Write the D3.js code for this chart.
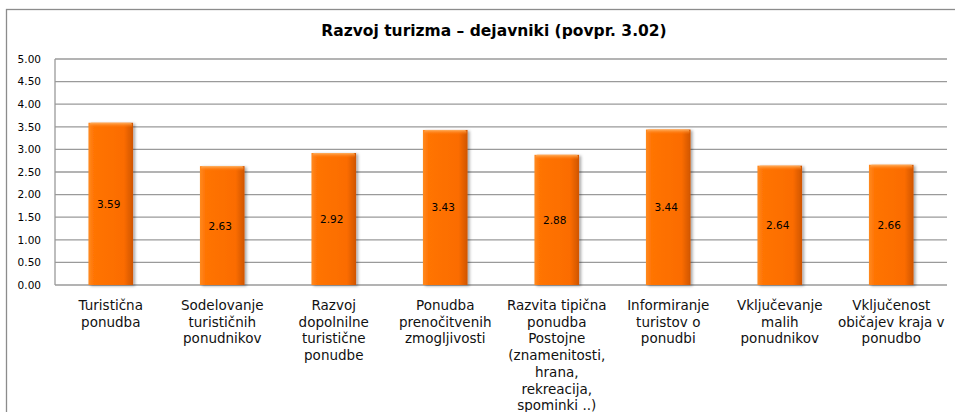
<!DOCTYPE html>
<html>
<head>
<meta charset="utf-8">
<script src="https://cdn.jsdelivr.net/npm/d3@7"></script>
<style>
  body { margin: 0; background: #fff; }
  svg { display: block; font-family: "DejaVu Sans", Verdana, sans-serif; }
</style>
</head>
<body>
<svg id="chart"></svg>
<script>
'use strict';

const title = 'Razvoj turizma – dejavniki (povpr. 3.02)';
const categories = [
  'Turistična\nponudba',
  'Sodelovanje\nturističnih\nponudnikov',
  'Razvoj\ndopolnilne\nturistične\nponudbe',
  'Ponudba\nprenočitvenih\nzmogljivosti',
  'Razvita tipična\nponudba\nPostojne\n(znamenitosti,\nhrana,\nrekreacija,\nspominki ..)',
  'Informiranje\nturistov o\nponudbi',
  'Vključevanje\nmalih\nponudnikov',
  'Vključenost\nobičajev kraja v\nponudbo'
];
const values = [3.59, 2.63, 2.92, 3.43, 2.88, 3.44, 2.64, 2.66];
const yTicks = [0, 0.5, 1, 1.5, 2, 2.5, 3, 3.5, 4, 4.5, 5];

const W = 955, H = 412;
const margin = { top: 59, left: 55, right: 8, bottom: 127 };
const width = W - margin.left - margin.right,
      height = H - margin.top - margin.bottom;

const svg = d3.select('#chart')
    .attr('width', W)
    .attr('height', H);

const defs = svg.append('defs');

const grad = defs.append('linearGradient')
    .attr('id', 'barFill')
    .attr('x1', '0').attr('x2', '1').attr('y1', '0').attr('y2', '0');
grad.append('stop').attr('offset', '0%').attr('stop-color', '#ff8a1f');
grad.append('stop').attr('offset', '12%').attr('stop-color', '#ff7405');
grad.append('stop').attr('offset', '80%').attr('stop-color', '#fb6c00');
grad.append('stop').attr('offset', '100%').attr('stop-color', '#cf5500');

const cap = defs.append('linearGradient')
    .attr('id', 'capFill')
    .attr('x1', '0').attr('x2', '0').attr('y1', '0').attr('y2', '1');
cap.append('stop').attr('offset', '0%').attr('stop-color', '#ffb060');
cap.append('stop').attr('offset', '100%').attr('stop-color', '#ff7405').attr('stop-opacity', 0);

const shadow = defs.append('filter')
    .attr('id', 'shadow')
    .attr('x', '-20%').attr('y', '-10%').attr('width', '150%').attr('height', '130%');
shadow.append('feDropShadow')
    .attr('dx', 2).attr('dy', 1)
    .attr('stdDeviation', 1.5)
    .attr('flood-color', '#000')
    .attr('flood-opacity', 0.35);

// outer chart frame (runs off the right and bottom edge)
svg.append('rect')
    .attr('x', 6.5).attr('y', 9.5)
    .attr('width', 1000).attr('height', 500)
    .attr('fill', 'none')
    .attr('stroke', '#8c8c8c')
    .attr('stroke-width', 1.3);

svg.append('text')
    .attr('x', 494)
    .attr('y', 36)
    .attr('text-anchor', 'middle')
    .attr('font-size', 15.5)
    .attr('font-weight', 'bold')
    .attr('fill', '#000')
    .text(title);

const graph = svg.append('g')
    .attr('transform', `translate(${margin.left}, ${margin.top})`);

const x = d3.scaleBand()
    .domain(categories)
    .range([0, width])
    .paddingInner(0.6)
    .paddingOuter(0.3);

const y = d3.scaleLinear()
    .domain([0, 5])
    .range([height, 0]);

// gridlines
graph.append('g')
    .selectAll('line')
    .data(yTicks)
  .enter().append('line')
    .attr('x1', 0)
    .attr('x2', width)
    .attr('y1', d => y(d))
    .attr('y2', d => y(d))
    .attr('stroke', '#9a9a9a')
    .attr('stroke-width', 1.3);

graph.append('line')
    .attr('x1', 0).attr('x2', 0)
    .attr('y1', 0).attr('y2', height)
    .attr('stroke', '#9a9a9a')
    .attr('stroke-width', 1.3);

const yAxis = d3.axisLeft(y)
    .tickValues(yTicks)
    .tickFormat(d3.format('.2f'))
    .tickSize(0)
    .tickPadding(14);

graph.append('g')
    .attr('class', 'y-axis')
    .call(yAxis)
    .call(g => g.select('.domain').remove())
    .selectAll('text')
    .attr('font-family', '"DejaVu Sans", Verdana, sans-serif')
    .attr('font-size', 10.5)
    .attr('fill', '#000');

// bars
const bars = graph.append('g')
    .selectAll('g')
    .data(values)
  .enter().append('g');

bars.append('rect')
    .attr('x', (d, i) => x(categories[i]))
    .attr('y', d => y(d))
    .attr('width', x.bandwidth())
    .attr('height', d => height - y(d))
    .attr('fill', 'url(#barFill)')
    .attr('filter', 'url(#shadow)');

bars.append('rect')
    .attr('x', (d, i) => x(categories[i]) + 1)
    .attr('y', d => y(d))
    .attr('width', x.bandwidth() - 2)
    .attr('height', 5)
    .attr('rx', 2)
    .attr('fill', 'url(#capFill)');

bars.append('text')
    .attr('x', (d, i) => x(categories[i]) + x.bandwidth() / 2 - 2)
    .attr('y', d => (y(d) + height) / 2 + 4)
    .attr('text-anchor', 'middle')
    .attr('font-size', 10.5)
    .attr('fill', '#000')
    .text(d => d.toFixed(2));

// category labels
const xAxis = graph.append('g')
    .attr('class', 'x-axis')
    .attr('transform', `translate(0, ${height})`);

xAxis.selectAll('text')
    .data(categories)
  .enter().append('text')
    .attr('x', d => x(d) + x.bandwidth() / 2)
    .attr('y', 25)
    .attr('text-anchor', 'middle')
    .attr('font-size', 13.5)
    .attr('fill', '#111')
    .each(function (d) {
      const t = d3.select(this);
      d.split('\n').forEach((line, i) => {
        t.append('tspan')
          .attr('x', t.attr('x'))
          .attr('dy', i === 0 ? 0 : 16.7)
          .text(line);
      });
    });
</script>
</body>
</html>
